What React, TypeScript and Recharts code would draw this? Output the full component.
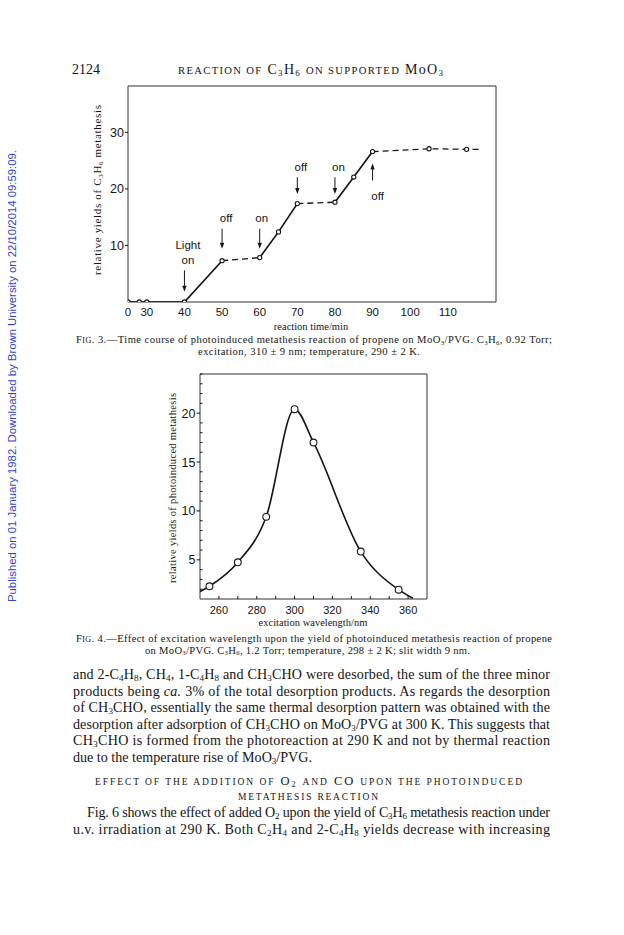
import React from "react";
import { LineChart, Line, XAxis, YAxis, ReferenceArea, ReferenceLine } from "recharts";

// ---- Fig. 3: time course (min) ----
// time 0 is drawn at the axis break, the axis then jumps to 30
const timeMin = [0, 28, 30, 40, 50, 60, 65, 70, 80, 85, 90, 105, 115, 118.5];
const metathesisYield = [0, 0, 0, 0, 7.3, 7.85, 12.4, 17.4, 17.65, 22.1, 26.6, 27.1, 27.0, 27.0];
const hasMarker3 = [1, 1, 1, 1, 1, 1, 1, 1, 1, 1, 1, 1, 1, 0];
// light on -> solid, light off -> dashed (index ranges)
const solidRuns = [[0, 4], [5, 7], [8, 10]];
const dashedRuns = [[4, 5], [7, 8], [10, 13]];
const timeTicks = [0, 30, 40, 50, 60, 70, 80, 90, 100, 110];
const yieldTicks3 = [10, 20, 30];
const BREAK_AT = 25;

// light switching arrows
const cues = [
  { t: 40, from: 5.6, to: 1.8, text: ["Light", "on"], dx: 3.5, below: false },
  { t: 50, from: 12.95, to: 9.4, text: ["off"], dx: 4, below: false },
  { t: 60, from: 12.95, to: 9.4, text: ["on"], dx: 2, below: false },
  { t: 70, from: 22.05, to: 19.1, text: ["off"], dx: 3.5, below: false },
  { t: 80, from: 22.05, to: 19.1, text: ["on"], dx: 3.5, below: false },
  { t: 90, from: 21.5, to: 24.5, text: ["off"], dx: 5, below: true },
];

// ---- Fig. 4: wavelength dependence ----
const wavelengthNm = [255, 270, 285, 300, 310, 335, 355];
const photoYield = [2.3, 4.75, 9.4, 20.4, 17.0, 5.85, 1.95];
const curveEnds = [[250, 1.75], [362.5, 1.07]];
const wlTicks = [260, 270, 280, 290, 300, 310, 320, 330, 340, 350, 360];
const yieldTicks4 = [2, 3, 4, 5, 6, 7, 8, 9, 10, 11, 12, 13, 14, 15, 16, 17, 18, 19, 20, 21, 22, 23, 24];

const SERIF = "'Liberation Serif', 'Times New Roman', serif";
const SANS = "'Liberation Sans', Arial, sans-serif";
const INK = "#151515";

const axisTime = (t: number) => (t === 0 ? BREAK_AT : t);

const rows3 = timeMin.map((t, i) => ({ x: axisTime(t), y: metathesisYield[i], mark: !!hasMarker3[i] }));
const rows4 = [
  { x: curveEnds[0][0], y: curveEnds[0][1], mark: false },
  ...wavelengthNm.map((w, i) => ({ x: w, y: photoYield[i], mark: true })),
  { x: curveEnds[1][0], y: curveEnds[1][1], mark: false },
];

// tiny markup: _{sub}  ~{small caps}  *{italic}
function rich(src: string, base: number) {
  const parts = src.split(/(_\{[^}]*\}|~\{[^}]*\}|\*\{[^}]*\})/).filter(Boolean);
  let shift = 0;
  return parts.map((p, i) => {
    let txt = p;
    let size = base;
    let want = 0;
    let style: string | undefined;
    if (p.startsWith("_{")) {
      txt = p.slice(2, -1);
      size = base * 0.64;
      want = base * 0.15;
    } else if (p.startsWith("~{")) {
      txt = p.slice(2, -1).toUpperCase();
      size = base * 0.76;
    } else if (p.startsWith("*{")) {
      txt = p.slice(2, -1);
      style = "italic";
    }
    const dy = want - shift;
    shift = want;
    return (
      <tspan key={i} fontSize={size} dy={dy} fontStyle={style}>
        {txt}
      </tspan>
    );
  });
}

type PageLine = { s: string; x: number; y: number; size: number; anchor?: string; len?: number };

const BODY = 14.1;
const CAP = 10.6;
const pageLines: PageLine[] = [
  { s: "2124", x: 72, y: 74, size: 14 },
  { s: "~{reaction of} C_{3}H_{6} ~{on supported} MoO_{3}", x: 310.5, y: 74, size: 14, anchor: "middle", len: 265 },
  { s: "reaction time/min", x: 311, y: 329.5, size: 10.5, anchor: "middle" },
  { s: "F~{ig}. 3.—Time course of photoinduced metathesis reaction of propene on MoO_{3}/PVG. C_{3}H_{6}, 0.92 Torr;", x: 76, y: 343, size: CAP, len: 476 },
  { s: "excitation, 310 ± 9 nm; temperature, 290 ± 2 K.", x: 309, y: 355, size: CAP, anchor: "middle", len: 222 },
  { s: "excitation wavelength/nm", x: 313, y: 626, size: 10.5, anchor: "middle" },
  { s: "F~{ig}. 4.—Effect of excitation wavelength upon the yield of photoinduced metathesis reaction of propene", x: 76, y: 641.5, size: CAP, len: 476 },
  { s: "on MoO_{3}/PVG. C_{3}H_{6}, 1.2 Torr; temperature, 298 ± 2 K; slit width 9 nm.", x: 307.5, y: 653.8, size: CAP, anchor: "middle", len: 325 },
  { s: "and 2-C_{4}H_{8}, CH_{4}, 1-C_{4}H_{8} and CH_{3}CHO were desorbed, the sum of the three minor", x: 73, y: 679, size: BODY, len: 477 },
  { s: "products being *{ca.} 3% of the total desorption products. As regards the desorption", x: 73, y: 695.5, size: BODY, len: 477 },
  { s: "of CH_{3}CHO, essentially the same thermal desorption pattern was obtained with the", x: 73, y: 712, size: BODY, len: 477 },
  { s: "desorption after adsorption of CH_{3}CHO on MoO_{3}/PVG at 300 K. This suggests that", x: 73, y: 728.5, size: BODY, len: 477 },
  { s: "CH_{3}CHO is formed from the photoreaction at 290 K and not by thermal reaction", x: 73, y: 745, size: BODY, len: 477 },
  { s: "due to the temperature rise of MoO_{3}/PVG.", x: 73, y: 761.5, size: BODY },
  { s: "~{effect of the addition of} O_{2} ~{and} CO ~{upon the photoinduced}", x: 308.5, y: 785, size: 12.5, anchor: "middle", len: 427 },
  { s: "~{metathesis reaction}", x: 308, y: 799.5, size: 12.5, anchor: "middle", len: 140 },
  { s: "Fig. 6 shows the effect of added O_{2} upon the yield of C_{3}H_{6} metathesis reaction under", x: 87, y: 817, size: BODY, len: 463 },
  { s: "u.v. irradiation at 290 K. Both C_{2}H_{4} and 2-C_{4}H_{8} yields decrease with increasing", x: 73, y: 834, size: BODY, len: 477 },
];

const openDot = (r: number) => (p: any) => {
  if (!p.payload || !p.payload.mark) return <g key={`n${p.index}`} />;
  return <circle key={`m${p.index}`} cx={p.cx} cy={p.cy} r={r} fill="#fff" stroke={INK} strokeWidth={1.1} />;
};

const arrowShape = (cue: (typeof cues)[number]) => (p: any) => {
  const { x1, y1, x2, y2 } = p;
  const dir = y2 > y1 ? 1 : -1;
  const head = 6;
  return (
    <g>
      <line x1={x1} y1={y1} x2={x2} y2={y2 - dir * head} stroke={INK} strokeWidth={1} />
      <path d={`M${x2 - 2.2},${y2 - dir * head} L${x2 + 2.2},${y2 - dir * head} L${x2},${y2} Z`} fill={INK} />
      {cue.text.map((s, i) => {
        const n = cue.text.length;
        const ty = cue.below ? y1 + 19.5 + i * 15 : y1 - 6.5 - (n - 1 - i) * 15;
        return (
          <text key={s} x={x1 + cue.dx} y={ty} textAnchor="middle" fontFamily={SANS} fontSize={11.5} fill={INK}>
            {s}
          </text>
        );
      })}
    </g>
  );
};

const XTick3 = (p: any) => (
  <text x={p.x} y={p.y + 14} textAnchor="middle" fontFamily={SANS} fontSize={11.5} fill={INK}>
    {p.payload.value === BREAK_AT ? "0" : p.payload.value}
  </text>
);

const YTick3 = (p: any) => (
  <g>
    <line x1={p.x - 3} x2={p.x} y1={p.y} y2={p.y} stroke={INK} />
    <text x={p.x - 4} y={p.y + 4.5} textAnchor="end" fontFamily={SANS} fontSize={12.5} fill={INK}>
      {p.payload.value}
    </text>
  </g>
);

const XTick4 = (p: any) => {
  const v = p.payload.value;
  return (
    <g>
      <line x1={p.x} x2={p.x} y1={p.y} y2={p.y - 3} stroke={INK} />
      {v % 20 === 0 ? (
        <text x={p.x} y={p.y + 15} textAnchor="middle" fontFamily={SANS} fontSize={11} fill={INK}>
          {v}
        </text>
      ) : null}
    </g>
  );
};

const YTick4 = (p: any) => {
  const v = p.payload.value;
  const major = v % 5 === 0;
  return (
    <g>
      {major ? (
        <>
          <line x1={p.x - 3.5} x2={p.x} y1={p.y} y2={p.y} stroke={INK} />
          <text x={p.x - 4.5} y={p.y + 4.5} textAnchor="end" fontFamily={SANS} fontSize={12.5} fill={INK}>
            {v}
          </text>
        </>
      ) : (
        <line x1={p.x} x2={p.x + 2.5} y1={p.y} y2={p.y} stroke={INK} />
      )}
    </g>
  );
};

function TimeCourse() {
  const dom: [number, number] = [BREAK_AT, 122.8];
  return (
    <LineChart width={624} height={340} margin={{ top: 86, right: 128, bottom: 8, left: 88 }}>
      <XAxis
        dataKey="x"
        type="number"
        domain={dom}
        allowDataOverflow
        ticks={timeTicks.map(axisTime)}
        interval={0}
        height={30}
        axisLine={false}
        tickLine={false}
        tickSize={0}
        tickMargin={0}
        tick={(p: any) => <XTick3 {...p} />}
      />
      <YAxis
        dataKey="y"
        type="number"
        domain={[0, 38.2]}
        allowDataOverflow
        ticks={yieldTicks3}
        interval={0}
        width={40}
        axisLine={false}
        tickLine={false}
        tickSize={0}
        tickMargin={0}
        tick={(p: any) => <YTick3 {...p} />}
      />
      <ReferenceArea x1={dom[0]} x2={dom[1]} y1={0} y2={38.2} fill="none" stroke="#333" strokeWidth={1} />
      {solidRuns.map(([a, b], i) => (
        <Line
          key={`s${i}`}
          data={rows3.slice(a, b + 1)}
          dataKey="y"
          stroke={INK}
          strokeWidth={1.7}
          dot={false}
          activeDot={false}
          type="linear"
          isAnimationActive={false}
        />
      ))}
      {dashedRuns.map(([a, b], i) => (
        <Line
          key={`d${i}`}
          data={rows3.slice(a, b + 1)}
          dataKey="y"
          stroke={INK}
          strokeWidth={1.3}
          strokeDasharray="6 4"
          dot={false}
          activeDot={false}
          type="linear"
          isAnimationActive={false}
        />
      ))}
      <Line
        data={rows3.filter((r) => r.mark)}
        dataKey="y"
        stroke="none"
        dot={openDot(2.1)}
        activeDot={false}
        isAnimationActive={false}
      />
      {cues.map((c, i) => (
        <ReferenceLine
          key={`c${i}`}
          segment={[{ x: c.t, y: c.from }, { x: c.t, y: c.to }]}
          shape={arrowShape(c)}
        />
      ))}
    </LineChart>
  );
}

function WavelengthEffect() {
  const dom: [number, number] = [250, 370];
  return (
    <LineChart width={624} height={260} margin={{ top: 14, right: 197, bottom: 1, left: 160 }}>
      <XAxis
        dataKey="x"
        type="number"
        domain={dom}
        allowDataOverflow
        ticks={wlTicks}
        interval={0}
        height={20}
        axisLine={false}
        tickLine={false}
        tickSize={0}
        tickMargin={0}
        tick={(p: any) => <XTick4 {...p} />}
      />
      <YAxis
        dataKey="y"
        type="number"
        domain={[1, 24]}
        allowDataOverflow
        ticks={yieldTicks4}
        interval={0}
        width={40}
        axisLine={false}
        tickLine={false}
        tickSize={0}
        tickMargin={0}
        tick={(p: any) => <YTick4 {...p} />}
      />
      <ReferenceArea x1={dom[0]} x2={dom[1]} y1={1} y2={24} fill="none" stroke="#333" strokeWidth={1} />
      <Line
        data={rows4}
        dataKey="y"
        type="monotone"
        stroke={INK}
        strokeWidth={1.6}
        dot={openDot(3.4)}
        activeDot={false}
        isAnimationActive={false}
      />
    </LineChart>
  );
}

export default function App() {
  return (
    <div style={{ position: "absolute", left: 0, top: 0, width: 624, height: 935, background: "#fff", overflow: "hidden" }}>
      <div style={{ position: "absolute", left: 0, top: 0 }}>
        <TimeCourse />
      </div>
      <div style={{ position: "absolute", left: 0, top: 360 }}>
        <WavelengthEffect />
      </div>
      <svg width={624} height={935} style={{ position: "absolute", left: 0, top: 0, pointerEvents: "none" }}>
        <text
          transform="translate(16,602) rotate(-90)"
          fontFamily="'Liberation Sans Narrow', 'Liberation Sans', sans-serif"
          fontSize={11}
          fill="#3344c8"
          textLength={452}
          lengthAdjust="spacingAndGlyphs"
        >
          Published on 01 January 1982. Downloaded by Brown University on 22/10/2014 09:59:09.
        </text>
        <text transform="translate(101,190) rotate(-90)" textAnchor="middle" fontFamily={SERIF} fontSize={11} fill={INK} textLength={170} lengthAdjust="spacing">
          {rich("relative yields of C_{3}H_{6} metathesis", 11)}
        </text>
        <text transform="translate(176,488) rotate(-90)" textAnchor="middle" fontFamily={SERIF} fontSize={10.5} fill={INK} textLength={190} lengthAdjust="spacing">
          {rich("relative yields of photoinduced metathesis", 10.5)}
        </text>
        {pageLines.map((l, i) => (
          <text
            key={i}
            x={l.x}
            y={l.y}
            textAnchor={l.anchor || "start"}
            fontFamily={SERIF}
            fontSize={l.size}
            fill={INK}
            textLength={l.len}
            lengthAdjust={l.len ? "spacing" : undefined}
          >
            {rich(l.s, l.size)}
          </text>
        ))}
      </svg>
    </div>
  );
}
